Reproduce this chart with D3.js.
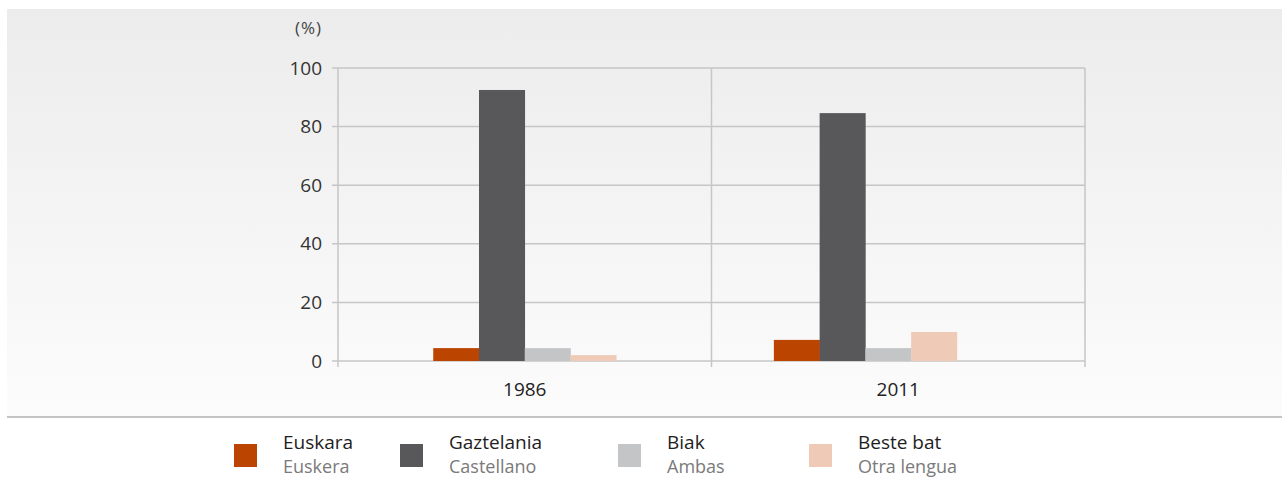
<!DOCTYPE html>
<html lang="eu">
<head>
<meta charset="UTF-8">
<title>Etxeko hizkuntza</title>
<style>
  body { margin: 0; background: #fff; }
  svg { display: block; font-family: "Open Sans", "Noto Sans", sans-serif; }
  .grid line { stroke: #c6c6c6; stroke-width: 1.5; }
  .tick-label { font-size: 19px; fill: #333; }
  .cat-label { font-size: 19px; fill: #222; text-anchor: middle; }
  .unit { font-size: 17px; fill: #444; letter-spacing: 1px; }
  .leg-main { font-size: 19px; fill: #1e1e1e; }
  .leg-sub { font-size: 18px; fill: #7a7a7a; }
</style>
</head>
<body>
<script src="https://d3js.org/d3.v7.min.js"></script>
<script>
var years = ['1986', '2011'];
var seriesEu = ['Euskara', 'Gaztelania', 'Biak', 'Beste bat'];
var seriesEs = ['Euskera', 'Castellano', 'Ambas', 'Otra lengua'];
var colors = ['#bb4400', '#58585a', '#c4c5c7', '#efcbb7'];
var values = [
  [4.4, 92.5, 4.4, 2.0],   // 1986
  [7.2, 84.6, 4.4, 9.9]    // 2011
];
var yTicks = [0, 20, 40, 60, 80, 100];

var width = 1282, height = 479;
var margin = { left: 338, right: 197, top: 68, bottom: 118 };
var innerW = width - margin.left - margin.right;
var innerH = height - margin.top - margin.bottom;

// where each bar group sits inside its band (the source does not centre the 2011 group)
var groupCenter = [0.5, 0.412];

var svg = d3.select('body').append('svg')
  .attr('width', width)
  .attr('height', height);

var defs = svg.append('defs');
var grad = defs.append('linearGradient')
  .attr('id', 'bg')
  .attr('x1', 0).attr('y1', 0).attr('x2', 0).attr('y2', 1);
grad.append('stop').attr('offset', '0%').attr('stop-color', '#ececec');
grad.append('stop').attr('offset', '100%').attr('stop-color', '#fcfcfc');

svg.append('rect')
  .attr('x', 7).attr('y', 9)
  .attr('width', width - 7).attr('height', 408)
  .attr('fill', 'url(#bg)');

svg.append('line')
  .attr('x1', 7).attr('x2', width)
  .attr('y1', 417).attr('y2', 417)
  .attr('stroke', '#b2b2b2')
  .attr('stroke-width', 1.5);

var g = svg.append('g')
  .attr('transform', 'translate(' + margin.left + ',' + margin.top + ')');

var x = d3.scaleBand()
  .domain(years)
  .range([0, innerW]);

var x1 = d3.scaleBand()
  .domain(seriesEu)
  .range([0, x.bandwidth() * 0.49]);

var y = d3.scaleLinear()
  .domain([0, 100])
  .range([innerH, 0]);

// horizontal grid
var grid = g.append('g').attr('class', 'grid');
grid.selectAll('.h')
  .data(yTicks)
  .enter().append('line')
  .attr('x1', -6).attr('x2', innerW)
  .attr('y1', function(d) { return y(d); })
  .attr('y2', function(d) { return y(d); });

// vertical separators
var seps = [0].concat(years.map(function(d) { return x(d) + x.bandwidth(); }));
grid.selectAll('.v')
  .data(seps)
  .enter().append('line')
  .attr('x1', function(d) { return d; })
  .attr('x2', function(d) { return d; })
  .attr('y1', 0).attr('y2', innerH + 6);

g.selectAll('.tick-label')
  .data(yTicks)
  .enter().append('text')
  .attr('class', 'tick-label')
  .attr('x', -16)
  .attr('y', function(d) { return y(d); })
  .attr('dy', '.35em')
  .attr('text-anchor', 'end')
  .text(function(d) { return d; });

g.append('text')
  .attr('class', 'unit')
  .attr('x', -16)
  .attr('y', -34)
  .attr('text-anchor', 'end')
  .text('(%)');

var groups = g.selectAll('.year')
  .data(years)
  .enter().append('g')
  .attr('class', 'year')
  .attr('transform', function(d, i) {
    return 'translate(' + (x(d) + x.bandwidth() * groupCenter[i] - x1.range()[1] / 2) + ',0)';
  });

groups.selectAll('rect')
  .data(function(d, i) { return values[i].map(function(v, j) { return { k: seriesEu[j], v: v, c: colors[j] }; }); })
  .enter().append('rect')
  .attr('x', function(d) { return x1(d.k); })
  .attr('width', x1.bandwidth() + 0.3)
  .attr('y', function(d) { return y(d.v); })
  .attr('height', function(d) { return innerH - y(d.v); })
  .attr('fill', function(d) { return d.c; });

g.selectAll('.cat-label')
  .data(years)
  .enter().append('text')
  .attr('class', 'cat-label')
  .attr('x', function(d) { return x(d) + x.bandwidth() / 2; })
  .attr('y', innerH + 35)
  .text(function(d) { return d; });

// legend
var legX = [234, 400, 618, 809];
var leg = svg.selectAll('.leg')
  .data(seriesEu)
  .enter().append('g')
  .attr('class', 'leg')
  .attr('transform', function(d, i) { return 'translate(' + legX[i] + ',444)'; });

leg.append('rect')
  .attr('width', 23).attr('height', 23)
  .attr('fill', function(d, i) { return colors[i]; });

leg.append('text')
  .attr('class', 'leg-main')
  .attr('x', 49).attr('y', 5)
  .text(function(d) { return d; });

leg.append('text')
  .attr('class', 'leg-sub')
  .attr('x', 49).attr('y', 29)
  .text(function(d, i) { return seriesEs[i]; });
</script>
</body>
</html>
